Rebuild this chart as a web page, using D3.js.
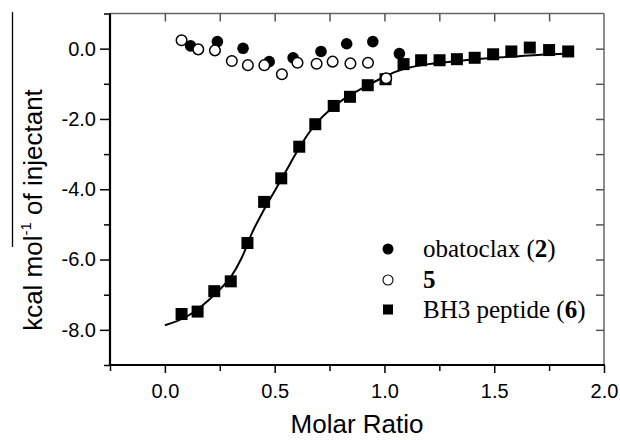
<html>
  <head>
    <title>ITC titration</title>
    <script src="https://d3js.org/d3.v7.min.js"></script>
    <style>
      body { margin: 0; background: #fff; }
      .tick text { font-family: "Liberation Sans", Arial, sans-serif; font-size: 20px; fill: #000; }
    </style>
  </head>

  <body>
    <svg id="itc" width="620" height="440"></svg>

    <script>
      // BH3 peptide (6)
      var peptideX = [0.076, 0.149, 0.225, 0.300, 0.376, 0.452, 0.530, 0.612, 0.685, 0.769, 0.843, 0.924,
                      1.005, 1.087, 1.167, 1.251, 1.330, 1.411, 1.495, 1.578, 1.662, 1.750, 1.837];
      var peptideY = [-7.55, -7.48, -6.90, -6.62, -5.53, -4.36, -3.69, -2.79, -2.15, -1.63, -1.37, -1.04,
                      -0.87, -0.44, -0.33, -0.33, -0.30, -0.26, -0.16, -0.08, 0.03, -0.04, -0.08];

      // fitted curve
      var fitX = [0, 0.1, 0.2, 0.25, 0.3, 0.35, 0.4, 0.45, 0.5, 0.55, 0.6, 0.65, 0.7, 0.75, 0.8, 0.85,
                  0.9, 0.95, 1.0, 1.05, 1.1, 1.15, 1.2, 1.3, 1.4, 1.5, 1.6, 1.7, 1.84];
      var fitY = [-7.87, -7.62, -7.15, -6.85, -6.5, -5.95, -5.2, -4.6, -4.05, -3.5, -2.95, -2.45, -2.05,
                  -1.75, -1.5, -1.3, -1.12, -0.96, -0.8, -0.66, -0.56, -0.49, -0.44, -0.37, -0.31, -0.26,
                  -0.22, -0.18, -0.14];

      // obatoclax (2)
      var obatoX = [0.117, 0.239, 0.356, 0.475, 0.584, 0.711, 0.828, 0.947, 1.068];
      var obatoY = [0.08, 0.20, 0.01, -0.37, -0.26, -0.08, 0.14, 0.20, -0.14];

      // compound 5
      var cmpdX = [0.076, 0.152, 0.228, 0.305, 0.378, 0.453, 0.533, 0.604, 0.691, 0.764, 0.845, 0.925, 1.008];
      var cmpdY = [0.24, -0.02, -0.05, -0.35, -0.47, -0.47, -0.73, -0.40, -0.43, -0.37, -0.42, -0.40, -0.84];

      var xMajor = [0, 0.5, 1.0, 1.5, 2.0];
      var xMinor = [-0.25, 0.25, 0.75, 1.25, 1.75];
      var xTop = [0, 0.25, 0.5, 0.75, 1.0, 1.25, 1.5, 1.75];
      var yMajor = [-8, -6, -4, -2, 0];
      var yMinor = [-9, -7, -5, -3, -1, 1];
      var yRight = [-8, -7, -6, -5, -4, -3, -2, -1, 0];

      var svg = d3.select("#itc");
      var pLeft = 110, pRight = 604, pTop = 13.5, pBottom = 365;

      var x = d3.scaleLinear().domain([-0.25, 2.0]).range([pLeft, pRight]);
      var y = d3.scaleLinear().domain([-9, 1]).range([pBottom, pTop]);
      var fmt = function (d) { return d.toFixed(1); };

      // frame: top and right lighter
      svg.append("line").attr("x1", pLeft).attr("x2", pRight).attr("y1", pTop).attr("y2", pTop)
        .attr("stroke", "#666").attr("stroke-width", 1.5);
      svg.append("line").attr("x1", pRight).attr("x2", pRight).attr("y1", pTop).attr("y2", pBottom)
        .attr("stroke", "#666").attr("stroke-width", 1.5);

      // top ticks (inside)
      svg.append("g")
        .attr("transform", "translate(0," + pTop + ")")
        .call(d3.axisTop(x).tickValues(xTop).tickSize(-8).tickFormat(""))
        .call(function (g) { g.select(".domain").remove(); })
        .selectAll("line").attr("stroke", "#555").attr("stroke-width", 1.5);

      // right ticks (inside)
      svg.append("g")
        .attr("transform", "translate(" + pRight + ",0)")
        .call(d3.axisRight(y).tickValues(yRight).tickSize(-8).tickFormat(""))
        .call(function (g) { g.select(".domain").remove(); })
        .selectAll("line").attr("stroke", "#555").attr("stroke-width", 1.5);

      // bottom axis
      svg.append("g")
        .attr("transform", "translate(0," + pBottom + ")")
        .call(d3.axisBottom(x).tickValues(xMinor).tickSize(6).tickSizeOuter(0).tickFormat(""))
        .call(function (g) { g.select(".domain").remove(); })
        .selectAll("line").attr("stroke-width", 1.5);
      svg.append("g")
        .attr("transform", "translate(0," + pBottom + ")")
        .call(d3.axisBottom(x).tickValues(xMajor).tickSize(8).tickPadding(11).tickSizeOuter(0).tickFormat(fmt))
        .call(function (g) { g.select(".domain").remove(); })
        .selectAll("line").attr("stroke-width", 1.5);

      // left axis
      svg.append("g")
        .attr("transform", "translate(" + pLeft + ",0)")
        .call(d3.axisLeft(y).tickValues(yMinor).tickSize(6).tickFormat(""))
        .call(function (g) { g.select(".domain").remove(); })
        .selectAll("line").attr("stroke-width", 1.5);
      svg.append("g")
        .attr("transform", "translate(" + pLeft + ",0)")
        .call(d3.axisLeft(y).tickValues(yMajor).tickSize(10).tickPadding(4).tickFormat(fmt))
        .call(function (g) { g.select(".domain").remove(); })
        .selectAll("line").attr("stroke-width", 1.5);

      svg.append("line").attr("x1", pLeft).attr("x2", pLeft).attr("y1", pTop).attr("y2", pBottom + 1)
        .attr("stroke", "#000").attr("stroke-width", 2.2);
      svg.append("line").attr("x1", pLeft - 1).attr("x2", pRight + 1).attr("y1", pBottom).attr("y2", pBottom)
        .attr("stroke", "#000").attr("stroke-width", 2.2);

      // axis titles
      svg.append("text")
        .attr("x", (pLeft + pRight) / 2)
        .attr("y", 433)
        .attr("text-anchor", "middle")
        .style("font-family", "Liberation Sans, Arial, sans-serif")
        .style("font-size", "26px")
        .text("Molar Ratio");

      var yt = svg.append("text")
        .attr("transform", "translate(42,210) rotate(-90)")
        .attr("text-anchor", "middle")
        .style("font-family", "Liberation Sans, Arial, sans-serif")
        .style("font-size", "26px");
      yt.append("tspan").text("kcal mol");
      yt.append("tspan").attr("dy", -11).style("font-size", "15px").text("-1");
      yt.append("tspan").attr("dy", 11).text(" of injectant");

      svg.append("line").attr("x1", 12.5).attr("x2", 12.5).attr("y1", 12).attr("y2", 247)
        .attr("stroke", "#000").attr("stroke-width", 1.3);

      // fit line
      var line = d3.line()
        .x(function (d) { return x(d[0]); })
        .y(function (d) { return y(d[1]); })
        .curve(d3.curveMonotoneX);
      svg.append("path")
        .datum(d3.zip(fitX, fitY))
        .attr("d", line)
        .attr("fill", "none")
        .attr("stroke", "#000")
        .attr("stroke-width", 2);

      // obatoclax, filled circles
      svg.selectAll(".obato")
        .data(d3.zip(obatoX, obatoY))
        .enter()
        .append("circle")
        .attr("class", "obato")
        .attr("cx", function (d) { return x(d[0]); })
        .attr("cy", function (d) { return y(d[1]); })
        .attr("r", 5.8)
        .attr("fill", "#000");

      // peptide, squares
      var sq = 12;
      svg.selectAll(".pep")
        .data(d3.zip(peptideX, peptideY))
        .enter()
        .append("rect")
        .attr("class", "pep")
        .attr("x", function (d) { return x(d[0]) - sq / 2; })
        .attr("y", function (d) { return y(d[1]) - sq / 2; })
        .attr("width", sq)
        .attr("height", sq)
        .attr("fill", "#000");

      // compound 5, open circles
      svg.selectAll(".cmpd")
        .data(d3.zip(cmpdX, cmpdY))
        .enter()
        .append("circle")
        .attr("class", "cmpd")
        .attr("cx", function (d) { return x(d[0]); })
        .attr("cy", function (d) { return y(d[1]); })
        .attr("r", 5.3)
        .attr("fill", "#fff")
        .attr("stroke", "#000")
        .attr("stroke-width", 1.5);

      // legend
      var lg = svg.append("g")
        .style("font-family", "Liberation Serif, Times New Roman, serif")
        .style("font-size", "25px");
      lg.append("circle").attr("cx", 388).attr("cy", 249).attr("r", 5.5).attr("fill", "#000");
      lg.append("circle").attr("cx", 388).attr("cy", 280).attr("r", 5).attr("fill", "#fff")
        .attr("stroke", "#000").attr("stroke-width", 1.1);
      lg.append("rect").attr("x", 383).attr("y", 304.5).attr("width", 10).attr("height", 10).attr("fill", "#000");

      var t1 = lg.append("text").attr("x", 423).attr("y", 257);
      t1.append("tspan").text("obatoclax (");
      t1.append("tspan").style("font-weight", "bold").text("2");
      t1.append("tspan").text(")");
      lg.append("text").attr("x", 423).attr("y", 288).style("font-weight", "bold").text("5");
      var t3 = lg.append("text").attr("x", 423).attr("y", 318);
      t3.append("tspan").text("BH3 peptide (");
      t3.append("tspan").style("font-weight", "bold").text("6");
      t3.append("tspan").text(")");
    </script>
  </body>
</html>
